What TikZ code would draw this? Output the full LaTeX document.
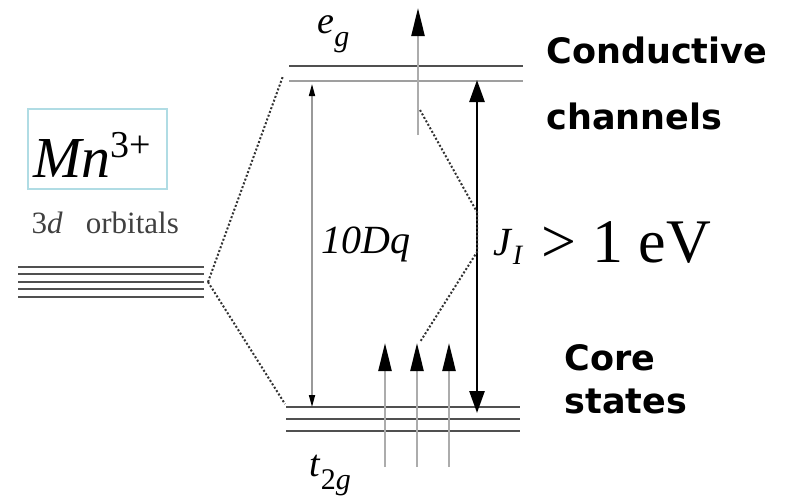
\documentclass[tikz,border=0pt]{standalone}
\usepackage{fontspec}
\setmainfont{Liberation Serif}
\newfontfamily\labelfont{DejaVu Sans}
\usetikzlibrary{arrows.meta}
\definecolor{boxblue}{RGB}{176,220,228}
\definecolor{levelgray}{RGB}{80,80,80}
\tikzset{
  level/.style={levelgray, line width=1.8pt},
  split/.style={dash pattern=on 2pt off 2pt, line width=2pt, black!80},
  spin/.style={line width=2.4pt, gray!65, -{Triangle[color=black,width=13pt,length=28pt]}},
  bold label/.style={anchor=base west, font=\labelfont\bfseries\fontsize{35}{40}\selectfont},
}
\begin{document}
\begin{tikzpicture}[x=1pt,y=-1pt]
\useasboundingbox (0,0) rectangle (791,496);

% 3d levels
\foreach \y in {267,274,282,289,297}
  \draw[level] (18,\y) -- (204,\y);
\coordinate (dsplit) at (208,282);

% e_g levels
\draw[level] (289,66) -- (523,66);
\draw[level, gray!75, line width=2.2pt] (289,81) -- (523,81);
\coordinate (egend) at (283,76);

% t_2g levels
\draw[level] (286,407) -- (520,407);
\draw[level] (286,419) -- (520,419);
\draw[level] (286,431) -- (520,431);
\coordinate (tend) at (285,404);

\draw[split] (dsplit) -- (egend);
\draw[split] (dsplit) -- (tend);

% 10Dq
\coordinate (dqtop) at (312,84);
\coordinate (dqbot) at (312,407);
\draw[gray!80, line width=1.6pt, {Triangle[color=black,width=6pt,length=12pt]}-{Triangle[color=black,width=6pt,length=12pt]}] (dqtop) -- (dqbot);
\node (dq) at (366,244) {\fontsize{40}{44}\selectfont\textit{10Dq}};

% J arrow
\coordinate (jtop) at (477,80);
\coordinate (jbot) at (477,413);
\draw[line width=2.6pt, {Triangle[width=15pt,length=22pt]}-{Triangle[width=15pt,length=22pt]}] (jtop) -- (jbot);
\node[anchor=base west] (jlabel) at (490,255) {\fontsize{40}{44}\selectfont\textit{J}\textsubscript{\textit{I}}};
\node[anchor=base west] (ev) at (538,262) {\fontsize{62}{70}\selectfont > 1 eV};

% spins
\coordinate (egs) at (418,135);
\coordinate (ege) at (418,8);
\draw[spin] (egs) -- (ege);
\foreach \x/\n in {385/a,417/b,449/c} {
  \coordinate (t\n s) at (\x,467);
  \coordinate (t\n e) at (\x,343);
  \draw[spin] (t\n s) -- (t\n e);
}
\coordinate (h1) at (420,110);
\coordinate (h2) at (477,212);
\coordinate (h3) at (477,252);
\coordinate (h4) at (420,342);
\draw[split] (h1) -- (h2) -- (h3) -- (h4);

% level labels
\node[anchor=base west] (eg) at (314,33) {\fontsize{38}{40}\selectfont\textit{e}\raisebox{-13pt}{\fontsize{30}{32}\selectfont\textit{g}}};
\node[anchor=base west] (t2g) at (306,476) {\fontsize{38}{40}\selectfont\textit{t}\raisebox{-13pt}{\fontsize{30}{32}\selectfont 2\textit{g}}};

% ion
\node[draw=boxblue, line width=1.3pt, minimum width=139pt, minimum height=80pt] (mnbox) at (97.5,149) {};
\node[anchor=base west] (mn) at (30,177) {\fontsize{58}{60}\selectfont\textit{Mn}\raisebox{20pt}{\fontsize{38}{40}\selectfont 3+}};
\node[anchor=base west, black!75] (orb) at (28,233) {\fontsize{31}{34}\selectfont 3\textit{d}\ \ \ orbitals};

% right labels
\node[bold label] (cond) at (543,63) {Conductive};
\node[bold label] (chan) at (543,129) {channels};
\node[bold label] (core) at (561,370) {Core};
\node[bold label] (stat) at (561,413) {states};
\end{tikzpicture}
\end{document}
